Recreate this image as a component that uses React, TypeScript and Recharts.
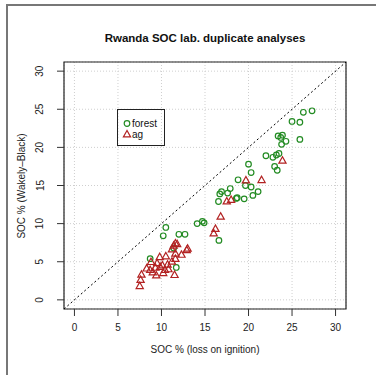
import {
  CartesianGrid,
  ReferenceArea,
  ReferenceLine,
  Scatter,
  ScatterChart,
  XAxis,
  YAxis,
} from "recharts";

// forest samples: loss on ignition vs Wakely-Black
const forestLoi = [
  27.3, 26.3, 25.0, 25.9, 25.9, 23.4, 23.7, 23.9, 24.3, 23.8, 22.0, 22.8, 23.2, 23.5,
  23.0, 23.3, 20.0, 20.3, 18.8, 19.65, 20.3, 21.1, 20.5, 19.5, 18.7, 18.6, 17.9, 17.6,
  16.9, 16.7, 16.55, 14.1, 14.7, 14.9, 12.7, 12.0, 16.6, 10.5, 10.2, 8.7, 11.4, 11.7,
];
const forestWb = [
  24.8, 24.6, 23.4, 23.3, 21.05, 21.5, 21.3, 21.6, 20.8, 20.4, 18.9, 18.7, 19.0, 19.2,
  17.5, 17.0, 17.8, 16.7, 15.75, 15.0, 14.8, 14.2, 13.7, 13.25, 13.4, 13.3, 14.6, 14.0,
  14.2, 13.9, 12.9, 10.0, 10.3, 10.1, 8.6, 8.6, 7.8, 9.5, 8.4, 5.4, 6.8, 4.25,
];

// agricultural samples
const agLoi = [
  23.9, 21.5, 19.7, 17.5, 18.0, 16.8, 16.2, 16.0, 13.0, 12.9, 12.3, 11.6, 11.8, 11.4,
  11.2, 10.5, 9.8, 11.6, 11.6, 8.8, 9.5, 10.7, 8.3, 8.7, 9.3, 9.85, 9.4, 10.2, 10.8,
  11.5, 7.7, 7.6, 7.5, 10.1, 9.0, 11.2, 10.4,
];
const agWb = [
  18.25, 15.7, 15.65, 12.9, 13.1, 10.9, 9.3, 8.7, 6.7, 6.5, 5.9, 7.4, 7.3, 7.1,
  6.6, 5.7, 5.6, 6.05, 5.35, 4.95, 4.8, 4.6, 4.1, 3.9, 4.2, 4.3, 3.2, 3.5, 4.0,
  3.25, 3.3, 2.6, 1.8, 4.5, 3.6, 5.0, 3.9,
];

const axisTicks = [0, 5, 10, 15, 20, 25, 30];
const lim: [number, number] = [-1.2, 31.2];

const forest = forestLoi.map((loi, i) => ({ loi, wb: forestWb[i] }));
const ag = agLoi.map((loi, i) => ({ loi, wb: agWb[i] }));

const GREEN = "#228B22";
const RED = "#B22222";
const FONT = "'Liberation Sans', Arial, Helvetica, sans-serif";

function CircleDot(props: any) {
  const { cx, cy } = props;
  return <circle cx={cx} cy={cy} r={2.8} fill="none" stroke={GREEN} strokeWidth={1.2} />;
}

function TriDot(props: any) {
  const { cx, cy } = props;
  return (
    <path
      d={`M${cx},${cy - 4} L${cx - 3.6},${cy + 2.4} L${cx + 3.6},${cy + 2.4} Z`}
      fill="none"
      stroke={RED}
      strokeWidth={1.2}
    />
  );
}

function XTick(props: any) {
  const { x, payload } = props;
  return (
    <text x={x} y={331} textAnchor="middle" fontSize={10} fontFamily={FONT} fill="#222">
      {payload.value}
    </text>
  );
}

function YTick(props: any) {
  const { y, payload } = props;
  return (
    <text
      x={40}
      y={y}
      dy={3.5}
      transform={`rotate(-90 40 ${y})`}
      textAnchor="middle"
      fontSize={10}
      fontFamily={FONT}
      fill="#222"
    >
      {payload.value}
    </text>
  );
}

export default function App() {
  return (
    <div
      style={{
        position: "absolute",
        left: 0,
        top: 0,
        width: 376,
        height: 375,
        background: "#fff",
        overflow: "hidden",
        fontFamily: FONT,
      }}
    >
      {/* outer device frame, only top/left edges show */}
      <div
        style={{
          position: "absolute",
          left: 6,
          top: 4,
          width: 400,
          height: 400,
          borderLeft: "2px solid #777",
          borderTop: "2px solid #777",
        }}
      />
      <ScatterChart width={376} height={375} margin={{ top: 62, right: 30, bottom: 0, left: 0 }}>
        <CartesianGrid stroke="#cfcfcf" strokeDasharray="1 2" />
        <XAxis
          dataKey="loi"
          type="number"
          domain={lim}
          ticks={axisTicks}
          interval={0}
          allowDataOverflow
          axisLine={false}
          tickSize={7}
          tickLine={{ stroke: "#333" }}
          tick={<XTick />}
          height={66}
        />
        <YAxis
          dataKey="wb"
          type="number"
          domain={lim}
          ticks={axisTicks}
          interval={0}
          allowDataOverflow
          axisLine={false}
          tickSize={7}
          tickLine={{ stroke: "#333" }}
          tick={<YTick />}
          width={64}
        />
        <ReferenceLine
          segment={[
            { x: lim[0], y: lim[0] },
            { x: lim[1], y: lim[1] },
          ]}
          stroke="#000"
          strokeDasharray="2 2.5"
        />
        <Scatter data={forest} shape={<CircleDot />} isAnimationActive={false} />
        <Scatter data={ag} shape={<TriDot />} isAnimationActive={false} />
        <ReferenceArea
          x1={lim[0]}
          x2={lim[1]}
          y1={lim[0]}
          y2={lim[1]}
          fill="none"
          stroke="#222"
          strokeWidth={1.2}
        />
      </ScatterChart>

      <div
        style={{
          position: "absolute",
          left: 64,
          width: 282,
          top: 32,
          textAlign: "center",
          fontWeight: "bold",
          fontSize: 11.5,
          color: "#111",
        }}
      >
        Rwanda SOC lab. duplicate analyses
      </div>
      <div
        style={{
          position: "absolute",
          left: 64,
          width: 282,
          top: 344,
          textAlign: "center",
          fontSize: 10,
          color: "#222",
        }}
      >
        SOC % (loss on ignition)
      </div>
      <div
        style={{
          position: "absolute",
          left: 22 - 100,
          top: 185.5 - 7,
          width: 200,
          height: 14,
          lineHeight: "14px",
          textAlign: "center",
          fontSize: 10,
          color: "#222",
          transform: "rotate(-90deg)",
        }}
      >
        SOC % (Wakely–Black)
      </div>

      {/* legend */}
      <div
        style={{
          position: "absolute",
          left: 117,
          top: 109,
          width: 46,
          height: 35,
          border: "1px solid #222",
          fontSize: 10,
          color: "#111",
        }}
      >
        <svg width={46} height={35} style={{ position: "absolute", left: 0, top: 0 }}>
          <circle cx={9} cy={13.5} r={2.8} fill="none" stroke={GREEN} strokeWidth={1.2} />
          <path d="M9,20.5 L5.4,26.9 L12.6,26.9 Z" fill="none" stroke={RED} strokeWidth={1.2} />
          <text x={14} y={17} fontSize={10} fontFamily={FONT} fill="#111">
            forest
          </text>
          <text x={14} y={28} fontSize={10} fontFamily={FONT} fill="#111">
            ag
          </text>
        </svg>
      </div>
    </div>
  );
}
